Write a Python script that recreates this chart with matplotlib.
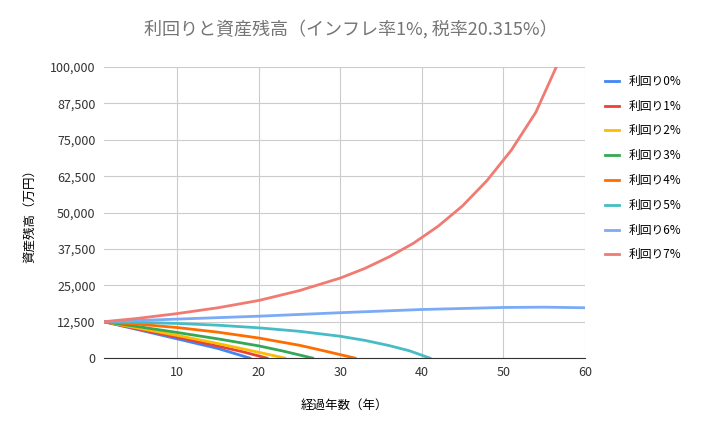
import matplotlib.pyplot as plt
from matplotlib.ticker import FuncFormatter

plt.rcParams["font.family"] = "Noto Sans CJK JP"

# values (万円)
years_r0 = [1, 5, 10, 15, 18.9]
r0 = [12500, 9900, 6600, 3300, 0]
years_r1 = [1, 5, 10, 15, 18, 21.0]
r1 = [12500, 10100, 7200, 4100, 2200, 0]
years_r2 = [1, 5, 10, 15, 20, 23.2]
r2 = [12500, 10400, 7800, 5000, 2000, 0]
years_r3 = [1, 5, 10, 15, 20, 23, 26.6]
r3 = [12500, 10900, 8800, 6600, 4200, 2400, 0]
years_r4 = [1, 5, 10, 15, 20, 25, 28, 31.8]
r4 = [12500, 11700, 10500, 8900, 6900, 4400, 2500, 0]
years_r5 = [1, 5, 10, 15, 20, 25, 30, 33, 36, 38.5, 41]
r5 = [12500, 12300, 11900, 11300, 10400, 9200, 7500, 6100, 4300, 2500, 0]
years_r6 = [1, 5, 10, 20, 30, 40, 50, 55, 60]
r6 = [12500, 12900, 13400, 14400, 15600, 16700, 17400, 17500, 17300]
years_r7 = [1, 5, 10, 15, 20, 25, 30, 33, 36, 39, 42, 45, 48, 51, 54, 56.5]
r7 = [12500, 13600, 15300, 17300, 19800, 23200, 27500, 30800, 34800, 39500, 45300, 52300, 61000, 71500, 84500, 100000]

labels = ["利回り0%", "利回り1%", "利回り2%", "利回り3%", "利回り4%", "利回り5%", "利回り6%", "利回り7%"]
colors = ["#4285f4", "#ea4335", "#fbbc04", "#34a853", "#ff6d01", "#46bdc6", "#7baaf7", "#f07b72"]
xs = [years_r0, years_r1, years_r2, years_r3, years_r4, years_r5, years_r6, years_r7]
ys = [r0, r1, r2, r3, r4, r5, r6, r7]

fig = plt.figure(figsize=(7.02, 4.33), dpi=100)
ax = fig.add_axes([0.148, 0.173, 0.685, 0.672])
for x, y, lab, c in zip(xs, ys, labels, colors):
    ax.plot(x, y, color=c, lw=2, label=lab, solid_joinstyle="round")

ax.set_xlim(1, 60)
ax.set_ylim(0, 100000)
ax.set_xticks([10, 20, 30, 40, 50, 60])
ax.set_yticks(range(0, 100001, 12500))
ax.yaxis.set_major_formatter(FuncFormatter(lambda v, p: f"{int(v):,}"))
ax.grid(True, color="#cccccc", lw=0.8)
for s in ["top", "right", "left"]:
    ax.spines[s].set_visible(False)
ax.spines["bottom"].set_color("#333333")
ax.tick_params(length=0, labelsize=9, colors="#333333", pad=6)

ax.set_xlabel("経過年数（年）", fontsize=9, labelpad=14)
ax.set_ylabel("資産残高（万円）", fontsize=9, labelpad=10)
fig.suptitle("利回りと資産残高（インフレ率1%, 税率20.315%）", fontsize=13, color="#757575", y=0.955)

ax.legend(loc="upper left", bbox_to_anchor=(1.02, 1.01), frameon=False, fontsize=8.5,
          handlelength=1.2, labelspacing=1.0)

fig.savefig("out.png", dpi=100)
